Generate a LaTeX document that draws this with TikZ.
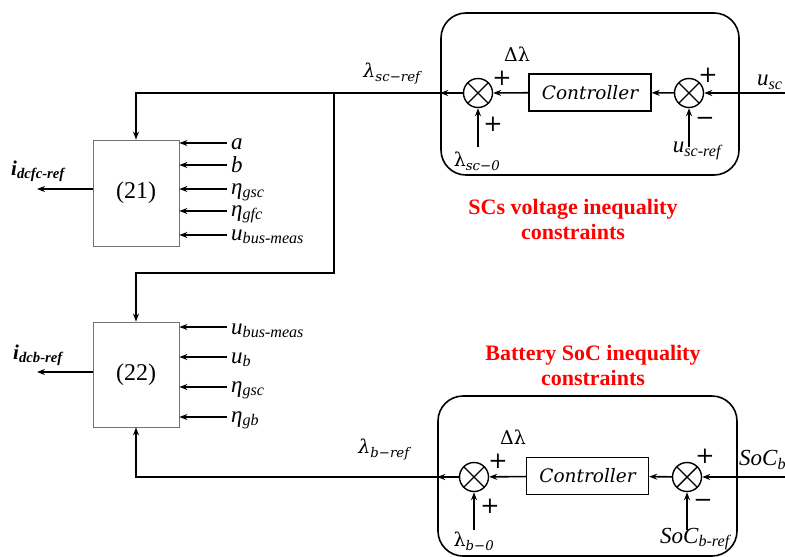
\documentclass[tikz,border=0pt]{standalone}
\usepackage{fontspec}
\setmainfont{Liberation Serif}
\newfontfamily\cambr{DejaVu Serif}
\usetikzlibrary{arrows.meta}
\tikzset{
  sig/.style={line width=1.6pt, -{Stealth[length=8pt,width=6pt]}},
  eqbox/.style={draw=black!55, line width=0.8pt, minimum width=86pt, minimum height=106pt, inner sep=0pt, font=\fontsize{24}{26}\selectfont},
  ctrl/.style={draw, line width=1.4pt, minimum width=122pt, minimum height=37pt, inner sep=0pt, font=\cambr\fontsize{18.5}{20}\selectfont\itshape},
  rbox/.style={draw, line width=1.6pt, rounded corners=25pt, minimum width=298pt, minimum height=162pt, inner sep=0pt},
  sum/.style={draw, circle, line width=1.4pt, minimum size=29pt, inner sep=0pt,
    path picture={\draw[line width=1.4pt] (path picture bounding box.north west)--(path picture bounding box.south east)
      (path picture bounding box.south west)--(path picture bounding box.north east);}},
  lbl/.style={inner sep=0pt, font=\fontsize{23}{25}\selectfont\itshape},
  cml/.style={inner sep=0pt, font=\cambr\fontsize{19}{21}\selectfont\itshape},
  sgn/.style={inner sep=0pt, font=\cambr\fontsize{23}{23}\selectfont},
  outl/.style={inner sep=0pt, font=\fontsize{21}{23}\selectfont\bfseries\itshape},
  redtxt/.style={inner sep=0pt, align=center, text=red, font=\fontsize{22}{25}\selectfont\bfseries},
}
\begin{document}
\begin{tikzpicture}[x=1pt,y=-1pt]
\useasboundingbox (0,0) rectangle (785,557);
% equation boxes
\node[eqbox] (b21) at (136,193) {(21)};
\node[eqbox, minimum height=105pt] (b22) at (136,374.5) {(22)};
% rounded boxes
\node[rbox] (tb) at (590,94) {};
\node[rbox, minimum height=160pt, minimum width=299pt] (bb) at (587.5,476) {};
% top loop
\node[sum] (sl1) at (478,93) {};
\node[ctrl] (c1) at (590,92.5) {Controller};
\node[sum] (sr1) at (689,93) {};
\coordinate (usc) at (785,93);
\coordinate (l0a) at (478,147);
\coordinate (ura) at (689,147);
\draw[sig] (usc) -- (sr1);
\draw[sig] (sr1) -- (c1);
\draw[sig] (c1) -- (sl1);
\draw[sig] (sl1) -- (sl1 -| tb.west);
\draw[sig] (l0a) -- (sl1);
\draw[sig] (ura) -- (sr1);
\draw[sig] (sl1 -| tb.west) -| (b21.north);
\coordinate (j1) at (334,93);
\coordinate (j2) at (334,273);
\draw[sig] (j1) -- (j2) -| (b22.north);
% bottom loop
\node[sum] (sl2) at (474,477) {};
\node[ctrl] (c2) at (587.5,476) {Controller};
\node[sum] (sr2) at (687,477) {};
\coordinate (socb) at (785,477);
\coordinate (l0b) at (474,530);
\coordinate (urb) at (687,530);
\draw[sig] (socb) -- (sr2);
\draw[sig] (sr2) -- (c2);
\draw[sig] (c2) -- (sl2);
\draw[sig] (sl2) -- (sl2 -| bb.west);
\draw[sig] (l0b) -- (sl2);
\draw[sig] (urb) -- (sr2);
\draw[sig] (sl2 -| bb.west) -| (b22.south);
% inputs to (21)
\coordinate (ia) at (227,143);
\coordinate (ib) at (227,165);
\coordinate (ic) at (227,189);
\coordinate (id) at (227,211);
\coordinate (ie) at (227,235);
\foreach \c in {ia,ib,ic,id,ie} \draw[sig] (\c) -- (\c -| b21.east);
\node[lbl, anchor=base west] (la) at (231,149) {a};
\node[lbl, anchor=base west] (lb) at (231,172) {b};
\node[lbl, anchor=base west] (lc) at (231,194) {η\textsubscript{gsc}};
\node[lbl, anchor=base west] (ld) at (231,216) {η\textsubscript{gfc}};
\node[lbl, anchor=base west] (le) at (231,240) {u\textsubscript{bus-meas}};
% inputs to (22)
\coordinate (ja) at (227,327);
\coordinate (jb) at (227,357);
\coordinate (jc) at (227,387);
\coordinate (jd) at (227,417);
\foreach \c in {ja,jb,jc,jd} \draw[sig] (\c) -- (\c -| b22.east);
\node[lbl, anchor=base west] (ma) at (231,334) {u\textsubscript{bus-meas}};
\node[lbl, anchor=base west] (mb) at (231,363) {u\textsubscript{b}};
\node[lbl, anchor=base west] (mc) at (231,392) {η\textsubscript{gsc}};
\node[lbl, anchor=base west] (md) at (231,422) {η\textsubscript{gb}};
% outputs
\coordinate (o21) at (37,189);
\coordinate (o22) at (37,372);
\draw[sig] (o21 -| b21.west) -- (o21);
\draw[sig] (o22 -| b22.west) -- (o22);
\node[outl] (n21) at (38,171) {i\textsubscript{dcfc-ref}};
\node[outl] (n22) at (38,355) {i\textsubscript{dcb-ref}};
% top labels
\node[cml] (lsr) at (392,74) {λ\textsubscript{sc−ref}};
\node[sgn, font=\cambr\fontsize{19}{21}\selectfont] (dl1) at (517,54) {Δλ};
\node[sgn] (p1) at (502,78) {+};
\node[sgn] (p2) at (493,124) {+};
\node[cml, font=\cambr\fontsize{19}{21}\selectfont] (ls0) at (477,161) {λ\textsubscript{\itshape sc−0}};
\node[sgn] (p3) at (708,75) {+};
\node[sgn] (m1) at (705,121) {−};
\node[lbl] (lur) at (697,151) {u\textsubscript{sc-ref}};
\node[lbl, anchor=west] (lus) at (757,82) {u\textsubscript{sc}};
% bottom labels
\node[cml] (lbr) at (384,450) {λ\textsubscript{b−ref}};
\node[sgn, font=\cambr\fontsize{19}{21}\selectfont] (dl2) at (513,437) {Δλ};
\node[sgn] (p4) at (498,461) {+};
\node[sgn] (p5) at (490,506) {+};
\node[cml, font=\cambr\fontsize{19}{21}\selectfont] (lb0) at (474,541) {λ\textsubscript{\itshape b−0}};
\node[sgn] (p6) at (705,456) {+};
\node[sgn] (m2) at (703,503) {−};
\node[lbl] (lsoc) at (695,539) {SoC\textsubscript{b-ref}};
\node[lbl, anchor=west] (lsb) at (739,460) {SoC\textsubscript{b}};
% red notes
\node[redtxt] (t1) at (573,219.5) {SCs voltage inequality\\constraints};
\node[redtxt] (t2) at (593,365) {Battery SoC inequality\\constraints};
\end{tikzpicture}
\end{document}
